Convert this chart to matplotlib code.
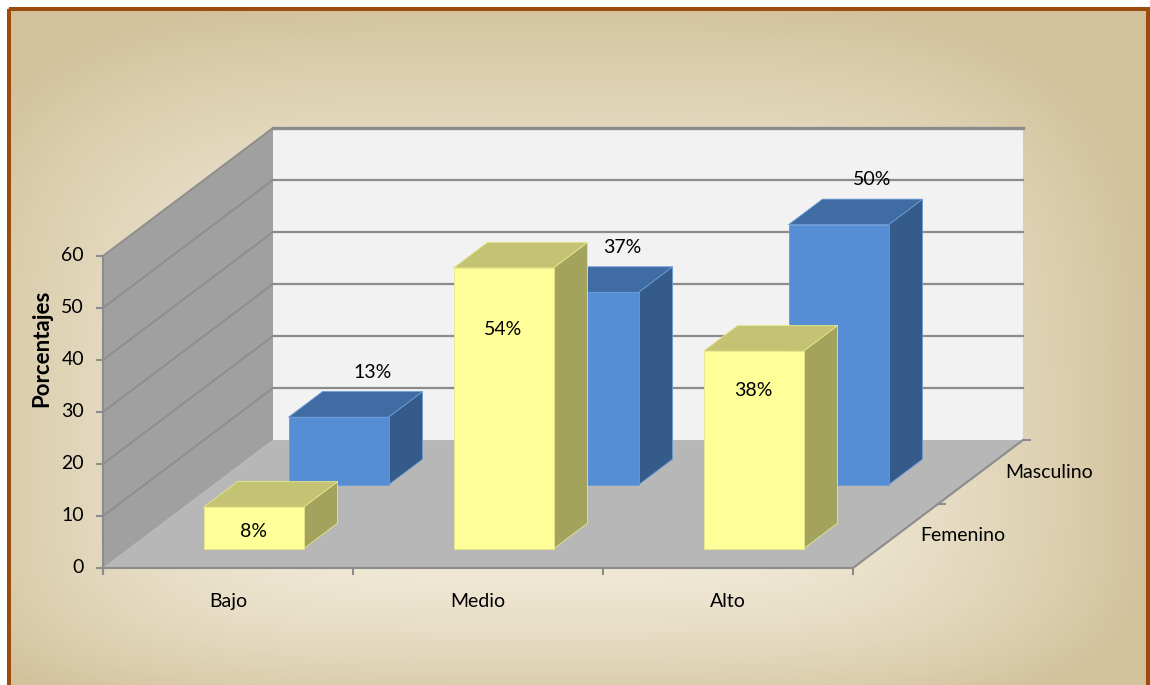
import numpy as np
import matplotlib
matplotlib.use("Agg")
import matplotlib.pyplot as plt
from matplotlib.patches import Polygon, Rectangle

plt.rcParams['font.family'] = ['Lato', 'DejaVu Sans']

# Datos del gráfico
categorias = ["Bajo", "Medio", "Alto"]
series = ["Femenino", "Masculino"]
femenino = [8, 54, 38]
masculino = [13, 37, 50]
ticks_y = [0, 10, 20, 30, 40, 50, 60]

# Proyección oblicua: la profundidad (0..1) desplaza en x (categorías) y en z (porcentaje)
PROF_X = 0.68
PROF_Z = 24.6
ANCHO = 0.4          # ancho de barra, gap 150%
ZMAX = 60
GRIS_LINEA = "#8C8C8C"
TAM = 14


def proy(x, d, z):
    return (x + d * PROF_X, z + d * PROF_Z)


def barra(ax, xc, d0, d1, v, frente, arriba, lado, borde):
    x0, x1 = xc - ANCHO / 2, xc + ANCHO / 2
    caras = [
        ([proy(x1, d0, 0), proy(x1, d1, 0), proy(x1, d1, v), proy(x1, d0, v)], lado),
        ([proy(x0, d0, v), proy(x1, d0, v), proy(x1, d1, v), proy(x0, d1, v)], arriba),
        ([proy(x0, d0, 0), proy(x1, d0, 0), proy(x1, d0, v), proy(x0, d0, v)], frente),
    ]
    for pts, col in caras:
        ax.add_patch(Polygon(pts, closed=True, facecolor=col, edgecolor=borde, lw=0.6, zorder=5))


fig = plt.figure(figsize=(11.5, 6.85), dpi=100)

# fondo con degradado desde el centro y marco marrón
fondo = fig.add_axes([0, 0, 1, 1])
H, W = 685, 1150
yy, xx = np.mgrid[0:H, 0:W]
cx, cy = 540, 470
tx = np.abs(xx - cx) / 610
ty = np.where(yy < cy, (cy - yy) / 470, (yy - cy) / 250)
t = np.clip((tx ** 4 + ty ** 4) ** 0.25, 0, 1) ** 2.2
claro = np.array([244, 238, 222]) / 255
oscuro = np.array([210, 194, 156]) / 255
img = claro + (oscuro - claro) * t[..., None]
img[(xx < 8) | (yy < 8)] = 1.0
fondo.imshow(img, extent=[0, W, H, 0], aspect='auto', interpolation='bilinear')
fondo.add_patch(Rectangle((9, 8.5), 1139, 700, fill=False, edgecolor="#9C4D0E", lw=2.9))
fondo.set_xlim(0, W)
fondo.set_ylim(H, 0)
fondo.axis('off')

ax = fig.add_axes([0, 0, 1, 1])
ax.set_facecolor('none')
ax.set_xlim(-0.412, 4.188)
ax.set_ylim(-22.5, 109.2)
ax.axis('off')

n = len(categorias)

# paredes y piso
pared_fondo = [proy(0, 1, 0), proy(n, 1, 0), proy(n, 1, ZMAX), proy(0, 1, ZMAX)]
pared_izq = [proy(0, 0, 0), proy(0, 1, 0), proy(0, 1, ZMAX), proy(0, 0, ZMAX)]
piso = [proy(0, 0, 0), proy(n, 0, 0), proy(n, 1, 0), proy(0, 1, 0)]
ax.add_patch(Polygon(pared_fondo, facecolor="#F2F2F2", edgecolor="none", zorder=1))
ax.add_patch(Polygon(pared_izq, facecolor="#A0A0A0", edgecolor="none", zorder=1))
ax.add_patch(Polygon(piso, facecolor="#B7B7B7", edgecolor="none", zorder=1))

# líneas de división
for z in ticks_y[1:]:
    xa, za = proy(0, 0, z)
    xb, zb = proy(0, 1, z)
    xc_, zc_ = proy(n, 1, z)
    ax.plot([xa, xb], [za, zb], color=GRIS_LINEA, lw=1.3, zorder=2)
    ax.plot([xb, xc_], [zb, zc_], color=GRIS_LINEA, lw=1.6 if z < ZMAX else 2.4, zorder=2)

# eje vertical
ax.plot([0, 0], [0, ZMAX], color=GRIS_LINEA, lw=1.5, zorder=3)
for z in ticks_y:
    ax.plot([-0.026, 0], [z, z], color=GRIS_LINEA, lw=1.5, zorder=3)
    ax.text(-0.076, z, str(z), ha='right', va='center', fontsize=TAM, color='black')

# eje de categorías
ax.plot([0, n], [0, 0], color=GRIS_LINEA, lw=1.5, zorder=3)
for i in range(n + 1):
    ax.plot([i, i], [0, -1.2], color=GRIS_LINEA, lw=1.5, zorder=3)
for i, cat in enumerate(categorias):
    ax.text(i + 0.5, -6.35, cat, ha='center', va='center', fontsize=TAM, color='black')

# eje de profundidad (series)
xa, za = proy(n, 0, 0)
xb, zb = proy(n, 1, 0)
ax.plot([xa, xb], [za, zb], color=GRIS_LINEA, lw=1.5, zorder=3)
for d in [0.5, 1.0]:
    xd, zd = proy(n, d, 0)
    ax.plot([xd, xd + 0.026], [zd, zd], color=GRIS_LINEA, lw=1.5, zorder=3)
for k, s in enumerate(series):
    xd, zd = proy(n, 0.25 + 0.5 * k, 0)
    ax.text(xd + 0.1, zd, s, ha='left', va='center', fontsize=TAM, color='black')

ax.text(-0.244, 42.3, "Porcentajes", rotation=90, ha='center', va='center',
        fontsize=16, fontweight='bold', color='black')

# barras: primero la serie de atrás
desfase_fem = [4.6, 11.9, 7.5]
for i, v in enumerate(masculino):
    xc = i + 0.5
    barra(ax, xc, 0.65, 0.85, v, "#558ED5", "#3F6CA3", "#355B8A", "#6A9BD8")
    xl, zl = proy(xc, 0.85, v)
    ax.text(xl, zl + 3.7, f"{v}%", ha='center', va='center', fontsize=TAM, color='black', zorder=6)

for i, v in enumerate(femenino):
    xc = i + 0.5
    barra(ax, xc, 0.15, 0.35, v, "#FFFF99", "#C3C373", "#A3A35E", "#E6E68A")
    xl, zl = proy(xc, 0.15, v - desfase_fem[i])
    ax.text(xl, zl, f"{v}%", ha='center', va='center', fontsize=TAM, color='black', zorder=6)

fig.savefig("out.png", dpi=100)
